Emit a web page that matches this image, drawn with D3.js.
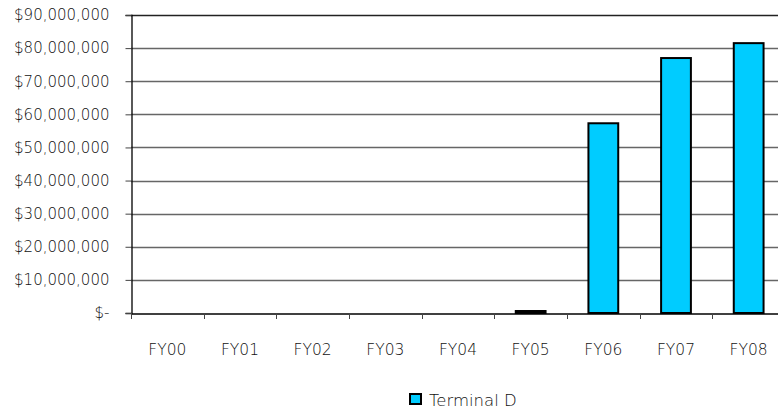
<!DOCTYPE html>
<html><head><meta charset="utf-8">
<script src="https://cdn.jsdelivr.net/npm/d3@7"></script>
<style>body{margin:0;background:#fff;}svg{display:block;}text{font-family:"DejaVu Sans",sans-serif;font-weight:200;}</style>
</head><body>
<svg id="c" width="778" height="412"></svg>
<script>
const categories = ["FY00","FY01","FY02","FY03","FY04","FY05","FY06","FY07","FY08"];
const values = [0, 0, 0, 0, 0, 600000, 57300000, 77000000, 81500000];
const yTicks = [0,10000000,20000000,30000000,40000000,50000000,60000000,70000000,80000000,90000000];
const seriesName = "Terminal D";

(function(){
const svg = d3.select("#c");
const pL = 131, pR = 785, pT = 15, pB = 313;
const x = d3.scaleBand().domain(categories).range([pL, pR]).paddingInner(0).paddingOuter(0);
const y = d3.scaleLinear().domain([0, 90000000]).range([pB, pT]);
const fmt = d => d === 0 ? "$-" : "$" + d3.format(",")(d);

// gridlines
svg.append("g").selectAll("line").data(yTicks.filter(d => d > 0)).join("line")
  .attr("x1", pL).attr("x2", pR)
  .attr("y1", d => Math.round(y(d)) + 0.5).attr("y2", d => Math.round(y(d)) + 0.5)
  .attr("stroke", d => d === 90000000 ? "#222" : "#666").attr("stroke-width", 1.3);

// y axis
const ya = svg.append("g").attr("transform", `translate(${pL+0.5},0)`)
  .call(d3.axisLeft(y).tickValues(yTicks).tickFormat(fmt).tickSize(6).tickPadding(16));
ya.select(".domain").attr("stroke", "#000").attr("stroke-width", 1.3);
ya.selectAll(".tick line").attr("stroke", "#444");
ya.selectAll("text").style("font-size", "15px").attr("fill", "#111");

// bars
const bw = x.bandwidth() * 0.41;
svg.append("g").selectAll("rect").data(categories.map((c, i) => ({c, v: values[i]})).filter(d => d.v > 0)).join("rect")
  .attr("x", d => x(d.c) + (x.bandwidth() - bw) / 2)
  .attr("width", bw)
  .attr("y", d => y(d.v))
  .attr("height", d => y(0) - y(d.v))
  .attr("fill", "#00CCFF").attr("stroke", "#000").attr("stroke-width", 2);

// x axis
const xa = svg.append("g").attr("transform", `translate(0,${pB+0.5})`)
  .call(d3.axisBottom(x).tickSize(0));
xa.select(".domain").attr("stroke", "#000").attr("stroke-width", 1.3);
xa.selectAll("text").style("font-size", "15.5px").attr("fill", "#111").attr("y", 41.5).attr("dy", 0);
svg.append("g").selectAll("line").data(categories).join("line")
  .attr("x1", d => Math.round(x(d)) + 0.5).attr("x2", d => Math.round(x(d)) + 0.5)
  .attr("y1", pB).attr("y2", pB + 6).attr("stroke", "#444");

// legend
svg.append("rect").attr("x", 410).attr("y", 394).attr("width", 11).attr("height", 10)
  .attr("fill", "#00CCFF").attr("stroke", "#000").attr("stroke-width", 2);
svg.append("text").attr("x", 429).attr("y", 405.5).style("font-size", "16.5px").attr("fill", "#111").text(seriesName);
})();
</script>
</body></html>
